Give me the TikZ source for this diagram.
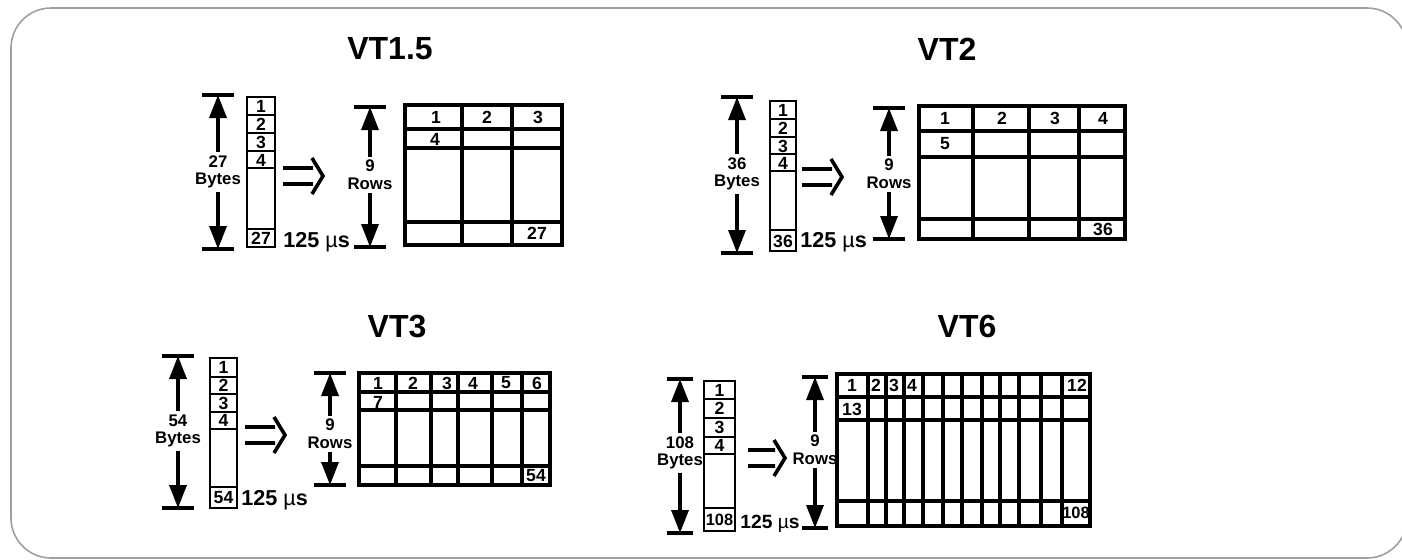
\documentclass[tikz,border=0pt]{standalone}
\usepackage{fontspec}
\setmainfont{Liberation Sans}
\usetikzlibrary{arrows.meta}

\begin{document}
\begin{tikzpicture}[x=0.5pt,y=-0.5pt,every node/.style={font=\fontsize{8.8}{9}\selectfont\bfseries,inner sep=0pt},
  title/.style={font=\fontsize{16}{18}\selectfont\bfseries},
  dimlbl/.style={align=center,inner sep=1.5pt,font=\fontsize{8.4}{8.8}\selectfont\bfseries},
  rate/.style={anchor=base west,font=\fontsize{10.8}{12}\selectfont\bfseries},
  narrow/.style={font=\fontsize{8.2}{9}\selectfont\bfseries},
  dimarrow/.style={line width=1.7pt,-{Triangle[length=11.5pt,width=8.5pt]}},
  bar/.style={line width=1.8pt},
  cell/.style={line width=1.3pt},
  gridline/.style={line width=1.6pt}]
\useasboundingbox (0,0) rectangle (1402,559);
\draw[gray!75,line width=0.8pt,rounded corners=20pt] (11,8) rectangle (1407,558);

% VT1.5
\node[title] (t15) at (390,49) {VT1.5};
\coordinate (b15top) at (218,95); \coordinate (b15bot) at (218,249);
\node[dimlbl] (b15) at (218,172) {27\\Bytes};
\draw[dimarrow] (b15) -- (b15top);
\draw[dimarrow] (b15) -- (b15bot);
\draw[bar] (b15top) +(-16,0) -- +(16,0) (b15bot) +(-16,0) -- +(16,0);
\draw[cell] (247,97) rectangle (275,247);
\foreach \y in {115,133,151,168,229} \draw[cell] (247,\y) -- (275,\y);
\foreach \n/\y in {1/106,2/124,3/142,4/160} \node (c15n\n) at (261,\y) {\n};
\node (c15last) at (261,238) {27};
\coordinate (m15) at (283,176);
\draw[bar] (m15) ++(0,-8) -- ++(30,0) (m15) ++(0,8) -- ++(30,0) (m15) ++(29,-18) -- ++(11,18) -- ++(-11,18);
\node[rate] (r15) at (283,247) {125 {\mdseries µ}s};
\coordinate (w15top) at (370,107); \coordinate (w15bot) at (370,247);
\node[dimlbl] (w15) at (370,175) {9\\Rows};
\draw[dimarrow] (w15) -- (w15top);
\draw[dimarrow] (w15) -- (w15bot);
\draw[bar] (w15top) +(-16,0) -- +(16,0) (w15bot) +(-16,0) -- +(16,0);
\draw[gridline] (405,105) rectangle (562,245);
\foreach \y in {129,148,222} \draw[gridline] (405,\y) -- (562,\y);
\foreach \x in {462,512} \draw[gridline] (\x,105) -- (\x,245);
\foreach \n/\x in {1/436,2/487,3/538} \node (g15n\n) at (\x,117) {\n};
\node (g15r2) at (435,139) {4};
\node (g15last) at (537,233) {27};

% VT2
\node[title] (t2) at (947,49) {VT2};
\coordinate (b2top) at (737,97); \coordinate (b2bot) at (737,253);
\node[dimlbl] (b2) at (737,174) {36\\Bytes};
\draw[dimarrow] (b2) -- (b2top);
\draw[dimarrow] (b2) -- (b2bot);
\draw[bar] (b2top) +(-16,0) -- +(16,0) (b2bot) +(-16,0) -- +(16,0);
\draw[cell] (770,101) rectangle (796,251);
\foreach \y in {119,137,154,171,230} \draw[cell] (770,\y) -- (796,\y);
\foreach \n/\y in {1/110,2/128,3/146,4/163} \node (c2n\n) at (783,\y) {\n};
\node (c2last) at (783,241) {36};
\coordinate (m2) at (802,177);
\draw[bar] (m2) ++(0,-8) -- ++(30,0) (m2) ++(0,8) -- ++(30,0) (m2) ++(29,-18) -- ++(11,18) -- ++(-11,18);
\node[rate] (r2) at (800,247) {125 {\mdseries µ}s};
\coordinate (w2top) at (889,108); \coordinate (w2bot) at (889,239);
\node[dimlbl] (w2) at (889,174) {9\\Rows};
\draw[dimarrow] (w2) -- (w2top);
\draw[dimarrow] (w2) -- (w2bot);
\draw[bar] (w2top) +(-16,0) -- +(16,0) (w2bot) +(-16,0) -- +(16,0);
\draw[gridline] (919,106) rectangle (1125,239);
\foreach \y in {131,157,219} \draw[gridline] (919,\y) -- (1125,\y);
\foreach \x in {973,1029,1079} \draw[gridline] (\x,106) -- (\x,239);
\foreach \n/\x in {1/945,2/1002,3/1055,4/1103} \node (g2n\n) at (\x,118) {\n};
\node (g2r2) at (945,144) {5};
\node (g2last) at (1103,229) {36};

% VT3
\node[title] (t3) at (397,326) {VT3};
\coordinate (b3top) at (178,356); \coordinate (b3bot) at (178,508);
\node[dimlbl] (b3) at (178,431) {54\\Bytes};
\draw[dimarrow] (b3) -- (b3top);
\draw[dimarrow] (b3) -- (b3bot);
\draw[bar] (b3top) +(-16,0) -- +(16,0) (b3bot) +(-16,0) -- +(16,0);
\draw[cell] (210,358) rectangle (237,508);
\foreach \y in {377,394,412,429,487} \draw[cell] (210,\y) -- (237,\y);
\foreach \n/\y in {1/367,2/385,3/403,4/420} \node (c3n\n) at (223.5,\y) {\n};
\node (c3last) at (223.5,498) {54};
\coordinate (m3) at (245,435);
\draw[bar] (m3) ++(0,-8) -- ++(30,0) (m3) ++(0,8) -- ++(30,0) (m3) ++(29,-18) -- ++(11,18) -- ++(-11,18);
\node[rate] (r3) at (241,505) {125 {\mdseries µ}s};
\coordinate (w3top) at (330,373); \coordinate (w3bot) at (330,485);
\node[dimlbl] (w3) at (330,434) {9\\Rows};
\draw[dimarrow] (w3) -- (w3top);
\draw[dimarrow] (w3) -- (w3bot);
\draw[bar] (w3top) +(-16,0) -- +(16,0) (w3bot) +(-16,0) -- +(16,0);
\draw[gridline] (359,373) rectangle (550,485);
\foreach \y in {392,410,466} \draw[gridline] (359,\y) -- (550,\y);
\foreach \x in {396,431,458,492,522} \draw[gridline] (\x,373) -- (\x,485);
\foreach \n/\x in {1/378,2/413,3/447,4/473,5/506,6/537} \node (g3n\n) at (\x,383) {\n};
\node (g3r2) at (378,402) {7};
\node (g3last) at (536,476) {54};

% VT6
\node[title] (t6) at (967,326) {VT6};
\coordinate (b6top) at (680,379); \coordinate (b6bot) at (680,533);
\node[dimlbl] (b6) at (680,453) {108\\Bytes};
\draw[dimarrow] (b6) -- (b6top);
\draw[dimarrow] (b6) -- (b6bot);
\draw[bar] (b6top) +(-13,0) -- +(13,0) (b6bot) +(-13,0) -- +(13,0);
\draw[cell] (704,381) rectangle (735,531);
\foreach \y in {399,418,437,454,508} \draw[cell] (704,\y) -- (735,\y);
\foreach \n/\y in {1/390,2/408,3/427,4/445} \node (c6n\n) at (719.5,\y) {\n};
\node[narrow] (c6last) at (719.5,520) {108};
\coordinate (m6) at (748,458);
\draw[bar] (m6) ++(0,-8) -- ++(27,0) (m6) ++(0,8) -- ++(27,0) (m6) ++(26,-18) -- ++(11,18) -- ++(-11,18);
\node[rate,font=\fontsize{9.6}{12}\selectfont\bfseries] (r6) at (740,528) {125 {\mdseries µ}s};
\coordinate (w6top) at (815,377); \coordinate (w6bot) at (815,528);
\node[dimlbl] (w6) at (815,450) {9\\Rows};
\draw[dimarrow] (w6) -- (w6top);
\draw[dimarrow] (w6) -- (w6bot);
\draw[bar] (w6top) +(-13,0) -- +(13,0) (w6bot) +(-13,0) -- +(13,0);
\draw[gridline] (837,374) rectangle (1090,526);
\foreach \y in {397,420,501} \draw[gridline] (837,\y) -- (1090,\y);
\foreach \x in {868,886,904,923,943,962,982,1000,1019,1041,1062} \draw[gridline] (\x,374) -- (\x,526);
\foreach \n/\x in {1/852,2/876,3/894,4/912,12/1077} \node (g6n\n) at (\x,385) {\n};
\node (g6r2) at (852,409) {13};
\node[narrow] (g6last) at (1076,513) {108};
\end{tikzpicture}
\end{document}
